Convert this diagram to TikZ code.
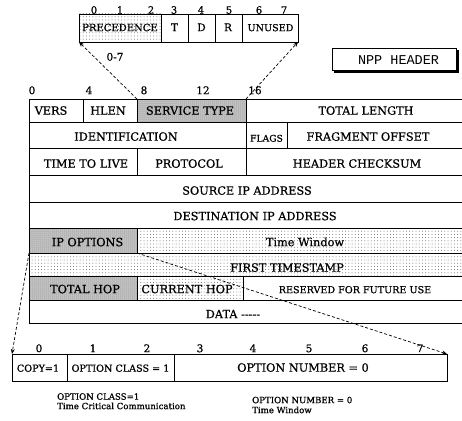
\documentclass[tikz,border=0pt]{standalone}
\usepackage{fontspec}
\setmainfont{DejaVu Serif}[FakeBold=0.7]
\newfontfamily\npmono{Liberation Mono}
\usetikzlibrary{arrows.meta,patterns.meta}
\begin{document}
\begin{tikzpicture}[x=1pt,y=-1pt,
  cell/.style={draw, line width=0.8pt, inner sep=0pt, outer sep=0pt, anchor=north west},
  dense/.style={preaction={fill=black!22}, pattern={Dots[distance=2pt,radius=0.5pt]}, pattern color=black!55},
  light/.style={pattern={Dots[distance=3.2pt,radius=0.5pt]}, pattern color=black!60},
  txt/.style={inner sep=0pt, text height=0.73em, text depth=0pt, font=\fontsize{11.3}{13}\selectfont},
  small/.style={txt, font=\fontsize{9.6}{11}\selectfont},
  num/.style={txt, font=\fontsize{10.5}{12}\selectfont},
  note/.style={txt, anchor=west, font=\fontsize{8.6}{10}\selectfont},
  arr/.style={dash pattern=on 3pt off 2pt, line width=0.7pt, -{Stealth[length=5pt,width=4pt]}}]
\useasboundingbox (0,0) rectangle (462,420);

% ---------- top (service type) box ----------
\node[cell, light, minimum width=82pt, minimum height=28pt] (prec) at (79,14) {};
\node[cell, minimum width=27pt, minimum height=28pt] (tcell) at (161,14) {};
\node[cell, minimum width=27pt, minimum height=28pt] (dcell) at (188,14) {};
\node[cell, minimum width=27pt, minimum height=28pt] (rcell) at (215,14) {};
\node[cell, minimum width=56pt, minimum height=28pt] (unused) at (242,14) {};
\node[small, font=\fontsize{10}{12}\selectfont] (tprec) at (120,27.5) {PRECEDENCE};
\node[small, font=\fontsize{10.5}{12}\selectfont] (tt) at (174.5,27.5) {T};
\node[small, font=\fontsize{10.5}{12}\selectfont] (td) at (201.5,27.5) {D};
\node[small, font=\fontsize{10.5}{12}\selectfont] (tr) at (228,27.5) {R};
\node[small] (tun) at (270.5,27.5) {UNUSED};
\foreach \xx/\lab [count=\i] in {94/0,120/1,151/2,174/3,201/4,229/5,259/6,284/7}
  \node[num, font=\fontsize{10}{12}\selectfont] (tn\i) at (\xx,10) {\lab};
\node[num] (range) at (115,57) {0-7};

% ---------- NPP HEADER ----------
\node[cell, fill=black, minimum width=124pt, minimum height=22pt] (nppshadow) at (334,50) {};
\node[cell, fill=white, line width=0.6pt, minimum width=124pt, minimum height=22pt] (npp) at (332,48) {};
\node[inner sep=0pt, font=\npmono\fontsize{13.5}{15}\selectfont] (npptext) at (398.5,60) {NPP HEADER};

% ---------- bit labels ----------
\node[num] (b0) at (32,90.5) {0};
\node[num] (b4) at (89,90.5) {4};
\node[num] (b8) at (144,90.5) {8};
\node[num] (b12) at (203,90.5) {12};
\node[num] (b16) at (255,90.5) {16};

% ---------- main header table ----------
\node[cell, minimum width=54pt, minimum height=23pt] (vers) at (29,99) {};
\node[cell, minimum width=54pt, minimum height=23pt] (hlen) at (83,99) {};
\node[cell, dense, minimum width=109pt, minimum height=23pt] (svc) at (137,99) {};
\node[cell, minimum width=216pt, minimum height=23pt] (totlen) at (246,99) {};

\node[cell, minimum width=217pt, minimum height=26pt] (ident) at (29,122) {};
\node[cell, minimum width=41pt, minimum height=26pt] (flags) at (246,122) {};
\node[cell, minimum width=175pt, minimum height=26pt] (frag) at (287,122) {};

\node[cell, minimum width=108pt, minimum height=27pt] (ttl) at (29,148) {};
\node[cell, minimum width=109pt, minimum height=27pt] (proto) at (137,148) {};
\node[cell, minimum width=216pt, minimum height=27pt] (hcs) at (246,148) {};

\node[cell, minimum width=433pt, minimum height=27pt] (src) at (29,175) {};
\node[cell, minimum width=433pt, minimum height=26pt] (dst) at (29,202) {};

\node[cell, dense, minimum width=108pt, minimum height=25pt] (ipopt) at (29,228) {};
\node[cell, light, minimum width=325pt, minimum height=25pt] (twin) at (137,228) {};

\node[cell, light, minimum width=433pt, minimum height=23pt] (fts) at (29,253) {};

\node[cell, dense, minimum width=108pt, minimum height=24pt] (thop) at (29,276) {};
\node[cell, light, minimum width=106pt, minimum height=24pt] (chop) at (137,276) {};
\node[cell, minimum width=219pt, minimum height=24pt] (resv) at (243,276) {};

\node[cell, line width=1pt, minimum width=433pt, minimum height=23pt] (data) at (29,300) {};

% texts
\node[txt] (tvers) at (51,111) {VERS};
\node[txt] (thlen) at (108,111) {HLEN};
\node[txt] (tsvc) at (190,111) {SERVICE TYPE};
\node[txt] (ttot) at (366,111) {TOTAL LENGTH};
\node[txt] (tident) at (126,137) {IDENTIFICATION};
\node[small, font=\fontsize{9.2}{10}\selectfont] (tflags) at (266.5,138) {FLAGS};
\node[txt] (tfrag) at (368,137) {FRAGMENT OFFSET};
\node[txt] (tttl) at (86,164) {TIME TO LIVE};
\node[txt] (tproto) at (189,164) {PROTOCOL};
\node[txt] (thcs) at (357,164) {HEADER CHECKSUM};
\node[txt] (tsrc) at (247,191) {SOURCE IP ADDRESS};
\node[txt] (tdst) at (255,216.5) {DESTINATION IP ADDRESS};
\node[txt] (tipopt) at (87.5,242.5) {IP OPTIONS};
\node[txt] (ttwin) at (305,242.5) {Time Window};
\node[txt] (tfts) at (287,268) {FIRST TIMESTAMP};
\node[txt] (tthop) at (85,289.5) {TOTAL HOP};
\node[txt] (tchop) at (187,289.5) {CURRENT HOP};
\node[small] (tresv) at (355,289.5) {RESERVED FOR FUTURE USE};
\node[txt] (tdata) at (233,314.5) {DATA -{}-{}-{}-{}-};

% ---------- option byte box ----------
\node[cell, minimum width=55pt, minimum height=27pt] (copy) at (12,354) {};
\node[cell, minimum width=107pt, minimum height=27pt] (ocls) at (67,354) {};
\node[cell, minimum width=273pt, minimum height=27pt] (onum) at (174,354) {};
\node[small] (tcopy) at (38,368) {COPY=1};
\node[small] (tocls) at (120.5,368) {OPTION CLASS = 1};
\node[txt] (tonum) at (303,368) {OPTION NUMBER = 0};
\foreach \xx/\lab [count=\i] in {39/0,93/1,147/2,200/3,253/4,309/5,365/6,420/7}
  \node[num] (bn\i) at (\xx,348.5) {\lab};

% ---------- notes ----------
\node[note] (n1) at (57,396) {OPTION CLASS=1};
\node[note] (n2) at (57,405.5) {Time Critical Communication};
\node[note] (n3) at (252,399.5) {OPTION NUMBER = 0};
\node[note] (n4) at (252,409.5) {Time Window};

% ---------- dashed arrows ----------
\draw[arr] (svc.north west) -- (prec.south west);
\draw[arr] (svc.north east) -- (unused.south east);
\draw[arr] (ipopt.south west) -- (copy.north west);
\draw[arr] (ipopt.south east) -- (onum.north east);
\end{tikzpicture}
\end{document}
